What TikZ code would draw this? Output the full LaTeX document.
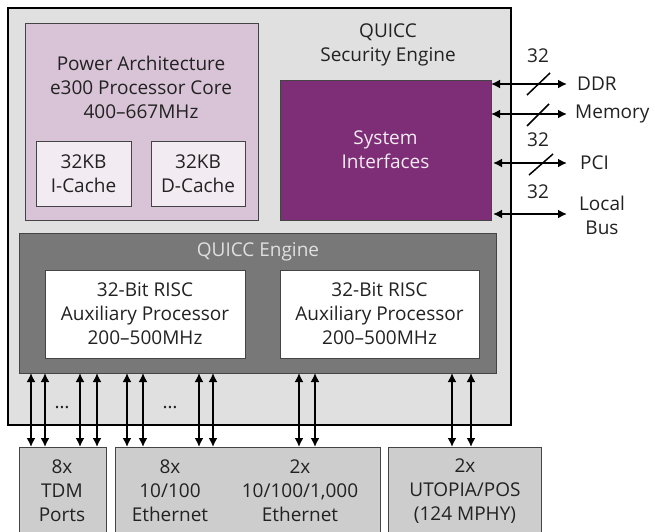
\documentclass[tikz,border=0pt]{standalone}
\usepackage{fontspec}
\setmainfont{Open Sans}
\usetikzlibrary{arrows.meta}
\definecolor{outerbg}{HTML}{E0E0E0}
\definecolor{corebg}{HTML}{D9C4D7}
\definecolor{cachebg}{HTML}{F2EBF1}
\definecolor{sibg}{HTML}{7E2D77}
\definecolor{qebg}{HTML}{787878}
\definecolor{portbg}{HTML}{CDCDCD}
\definecolor{ink}{HTML}{222222}
\definecolor{edge}{HTML}{444444}
\begin{document}
\begin{tikzpicture}[x=1pt,y=-1pt,
  box/.style={draw=edge, line width=1pt, anchor=north west, inner sep=0pt, outer sep=0pt},
  txt/.style={align=center, text=ink, font=\fontsize{19}{24}\selectfont, inner sep=0pt},
  bidir/.style={{Latex[length=9pt,width=9pt]}-{Latex[length=9pt,width=9pt]}, line width=1.8pt, draw=black},
  slash/.style={line width=1.5pt}]
\useasboundingbox (0,0) rectangle (655,531);
\clip (0,0) rectangle (655,531);
\fill[white] (0,0) rectangle (655,531);
% chip
\node[box, draw=black, line width=2pt, fill=outerbg, minimum width=503pt, minimum height=417pt] (chip) at (8,8) {};
% core
\node[box, fill=corebg, minimum width=233pt, minimum height=197pt] (core) at (25,23) {};
\node[txt] (coretxt) at (141,87) {Power Architecture\\e300 Processor Core\\400–667MHz};
\node[box, fill=cachebg, minimum width=95pt, minimum height=65pt, txt, anchor=north west] (icache) at (36,141) {32KB\\I-Cache};
\node[box, fill=cachebg, minimum width=94pt, minimum height=65pt, txt, anchor=north west] (dcache) at (151,141) {32KB\\D-Cache};
% security engine
\node[txt] (sec) at (388,45) {QUICC\\Security Engine};
\node[box, fill=sibg, minimum width=211pt, minimum height=140pt, txt, text=cachebg, anchor=north west] (si) at (280,80) {System\\Interfaces};
% QUICC engine
\node[box, fill=qebg, minimum width=477pt, minimum height=140pt] (qe) at (19,233) {};
\node[txt, text=outerbg] (qetxt) at (258,252) {QUICC Engine};
\node[box, fill=white, minimum width=200pt, minimum height=88pt, txt, anchor=north west] (risc1) at (45,270) {32-Bit RISC\\Auxiliary Processor\\200–500MHz};
\node[box, fill=white, minimum width=199pt, minimum height=88pt, txt, anchor=north west] (risc2) at (280,270) {32-Bit RISC\\Auxiliary Processor\\200–500MHz};
% port boxes
\node[box, fill=portbg, minimum width=87pt, minimum height=100pt] (tdm) at (19,447) {};
\node[box, fill=portbg, minimum width=265pt, minimum height=100pt] (eth) at (115,447) {};
\node[box, fill=portbg, minimum width=153pt, minimum height=100pt] (uto) at (388,447) {};
\node[txt] (tdmtxt) at (62,491) {8x\\TDM\\Ports};
\node[txt] (eth1txt) at (170,491) {8x\\10/100\\Ethernet};
\node[txt] (eth2txt) at (300,491) {2x\\10/100/1,000\\Ethernet};
\node[txt] (utotxt) at (465,491) {2x\\UTOPIA/POS\\(124 MPHY)};
% bus arrows
\foreach \x/\b [count=\i] in {31/tdm,45/tdm,80/tdm,97/tdm,127/eth,143/eth,199/eth,213/eth,299/eth,315/eth,452/uto,471/uto}{
  \coordinate (c\i) at (\x,0);
  \draw[bidir] (qe.south -| c\i) -- (\b.north -| c\i);
}
\node[txt] (dots1) at (62,408) {…};
\node[txt] (dots2) at (170,408) {…};
% external interfaces
\coordinate (ddr) at (567,84);
\coordinate (mem) at (567,114);
\coordinate (pci) at (567,163);
\coordinate (lbus) at (567,214);
\draw[bidir] (si.east |- ddr) -- (ddr);
\draw[bidir] (si.east |- mem) -- (mem);
\draw[bidir] (si.east |- pci) ++(2,0) -- (pci);
\draw[bidir] (si.east |- lbus) ++(2,0) -- (lbus);
\draw[slash] (527,95) -- (550,73);
\draw[slash] (527,126) -- (549,104);
\draw[slash] (529,175) -- (553,154);
\node[txt] (w1) at (538,56) {32};
\node[txt] (w2) at (538,140) {32};
\node[txt] (w3) at (538,192) {32};
\node[txt, anchor=west] (ddrl) at (577,84) {DDR};
\node[txt, anchor=west] (meml) at (575,114) {Memory};
\node[txt, anchor=west] (pcil) at (580,163) {PCI};
\node[txt] (lbusl) at (602,215) {Local\\Bus};
\end{tikzpicture}
\end{document}
